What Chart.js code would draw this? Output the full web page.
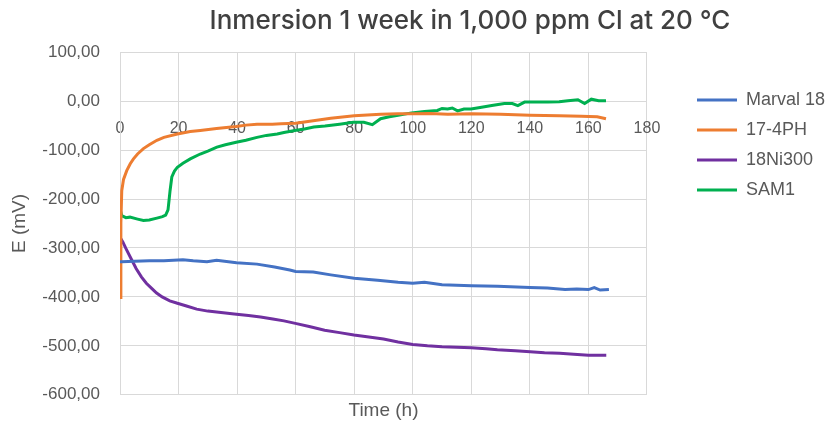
<!DOCTYPE html>
<html>
<head>
<meta charset="utf-8">
<script src="https://cdn.jsdelivr.net/npm/chart.js@4.4.0/dist/chart.umd.min.js"></script>
<style>
  html, body { margin: 0; padding: 0; background: #fff; }
</style>
</head>
<body>
<canvas id="chart" width="827" height="425"></canvas>
<script>
// time (h) / potential (mV)
var marvalT = [0, 0.6, 5, 10, 15, 21.5, 25, 29.7, 33, 39.8, 46.8, 52.8, 58, 60, 66, 72, 80, 88, 95, 100, 104, 110, 120, 129, 140, 146, 152, 156, 160, 162, 164, 167];
var marvalE = [-328, -328, -327, -326, -326, -324, -326, -328, -325, -330, -333, -339, -345, -348, -349, -355, -362, -366, -370, -372, -370, -375, -377, -378, -381, -382, -385, -384, -385, -381, -386, -385];

var ph17T = [0, 0.3, 0.6, 1.2, 2.3, 3.5, 4.6, 6, 8, 10, 12.6, 15, 19.6, 24, 27.4, 33, 39.7, 43, 46.8, 52, 55, 60, 66, 72, 80, 89, 95, 100, 106, 112, 120, 130, 140, 150, 157.5, 163, 166];
var ph17E = [-401, -250, -183, -160, -142, -128, -118, -108, -97, -89, -80, -74, -67, -62, -60, -56, -52, -49, -47, -47, -46, -45, -40, -35, -30, -27, -26, -26, -25, -27, -26, -27, -29, -30, -31, -32, -36];

var ni300T = [0, 1, 2, 3.8, 5.5, 7.3, 9, 10.9, 12.5, 14.4, 17, 19.6, 23, 26.2, 30, 34.5, 39, 43.9, 48, 52.2, 56, 59.9, 65, 69.9, 75, 79.9, 85, 90, 95, 100, 105, 110, 115, 120, 125, 128.9, 135, 140.1, 145, 150.2, 155, 160, 166.1];
var ni300E = [-278, -288, -301, -322, -342, -359, -372, -383, -392, -400, -408, -413, -419, -425, -429, -432, -435, -438, -441, -445, -449, -454, -461, -468, -473, -478, -482, -486, -492, -497, -500, -502, -503, -504, -506, -508, -510, -512, -514, -515, -517, -519, -519];

var sam1T = [0, 0.6, 2, 3.4, 6, 8, 10, 12.6, 14.5, 15.6, 16.4, 16.8, 17.1, 17.7, 18.6, 19.6, 21.5, 24, 27.4, 30, 33.1, 36, 39.7, 43, 46.8, 50, 53.7, 56, 59.7, 63, 66.2, 70, 75, 79.7, 83.3, 86.2, 89, 92, 95, 99.6, 104, 108.4, 110, 111.9, 113.5, 115.3, 117.5, 119.9, 123, 127, 131.3, 134, 135.9, 138.2, 142, 146.2, 150, 153, 156.4, 158.7, 161, 163.5, 166];
var sam1E = [-220, -234, -238, -237, -241, -244, -243, -239, -236, -233, -222, -200, -183, -155, -143, -135, -127, -118, -108, -102, -94, -89, -84, -80, -74, -70, -67, -64, -60, -57, -53, -51, -47, -43, -43, -48, -36, -32, -29, -24, -21, -19, -15, -16, -14, -20, -16, -16, -13, -9, -5, -5, -9, -2, -2, -2, -1, 1, 3, -5, 4, 1, 1];

var seriesNames = ['Marval 18', '17-4PH', '18Ni300', 'SAM1'];
var seriesColors = ['#4472C4', '#ED7D31', '#7030A0', '#00B050'];

var xTicks = [0, 20, 40, 60, 80, 100, 120, 140, 160, 180];
var yTicks = [100, 0, -100, -200, -300, -400, -500, -600];

var textGrey = '#595959';
var gridGrey = '#D9D9D9';

//zip time and potential into points
function toPoints(t, e) {
    var pts = [];
    for (var i = 0; i < t.length; i++) {
        pts.push({ x: t[i], y: e[i] });
    }
    return pts;
}

function lineDataset(i, t, e) {
    return {
        label: seriesNames[i],
        data: toPoints(t, e),
        borderColor: seriesColors[i],
        backgroundColor: seriesColors[i],
        borderWidth: 3,
        pointRadius: 0,
        tension: 0,
        xAxisID: 'x',
        yAxisID: 'y'
    };
}

//move title and legend where the original has them
var legendLeft = 685, legendTop = 79, titleCenter = 470;
var shiftBoxes = {
    id: 'shiftBoxes',
    afterLayout: function (chart) {
        var lg = chart.legend;
        var dx = legendLeft - lg.left, dy = legendTop - lg.top;
        lg.left += dx; lg.right += dx;
        lg.top += dy; lg.bottom += dy;
        var tb = chart.titleBlock;
        var tx = titleCenter - (tb.left + tb.right) / 2;
        tb.left += tx; tb.right += tx;
    }
};

Chart.defaults.font.family = "'Liberation Sans', Arial, sans-serif";
Chart.defaults.color = textGrey;

new Chart(document.getElementById('chart'), {
    type: 'line',
    data: {
        datasets: [
            lineDataset(0, marvalT, marvalE),
            lineDataset(1, ph17T, ph17E),
            lineDataset(2, ni300T, ni300E),
            lineDataset(3, sam1T, sam1E)
        ]
    },
    options: {
        responsive: false,
        animation: false,
        layout: { padding: { left: 0, right: 30, top: 0, bottom: 0 } },
        plugins: {
            title: {
                display: true,
                text: 'Inmersion 1 week in 1,000 ppm Cl at 20 °C',
                color: '#404040',
                font: { family: 'Inter', size: 26, weight: '500' },
                padding: { top: 6, bottom: 15 }
            },
            legend: {
                position: 'right',
                align: 'start',
                labels: {
                    usePointStyle: true,
                    pointStyle: 'line',
                    pointStyleWidth: 40,
                    boxHeight: 18,
                    padding: 12,
                    color: textGrey,
                    font: { size: 18 }
                }
            },
            tooltip: { enabled: false }
        },
        scales: {
            x: {
                type: 'linear',
                position: { y: 0 },
                min: 0,
                max: 180,
                afterBuildTicks: function (s) { s.ticks = xTicks.map(function (v) { return { value: v }; }); },
                ticks: { padding: 18, font: { size: 16 }, color: textGrey, maxRotation: 0 },
                grid: { color: gridGrey, drawTicks: false },
                border: { color: gridGrey }
            },
            x2: {
                type: 'linear',
                position: 'bottom',
                min: 0,
                max: 180,
                ticks: { display: false },
                grid: { display: false, drawTicks: false },
                border: { display: false },
                title: { display: true, text: 'Time (h)', color: textGrey, font: { size: 19 }, padding: { top: 0, bottom: 3 } },
                afterFit: function (s) { s.height = 30; }
            },
            y: {
                type: 'linear',
                min: -600,
                max: 100,
                afterBuildTicks: function (s) { s.ticks = yTicks.map(function (v) { return { value: v }; }); },
                ticks: {
                    padding: 20,
                    font: { size: 17 },
                    color: textGrey,
                    callback: function (v) { return v.toFixed(2).replace('.', ','); }
                },
                grid: { color: gridGrey, drawTicks: false },
                border: { color: gridGrey },
                title: { display: true, text: 'E (mV)', color: textGrey, font: { size: 19 }, padding: { top: 8, bottom: 0 } },
                afterFit: function (s) { s.width = 120; }
            }
        }
    },
    plugins: [shiftBoxes]
});
</script>
</body>
</html>
